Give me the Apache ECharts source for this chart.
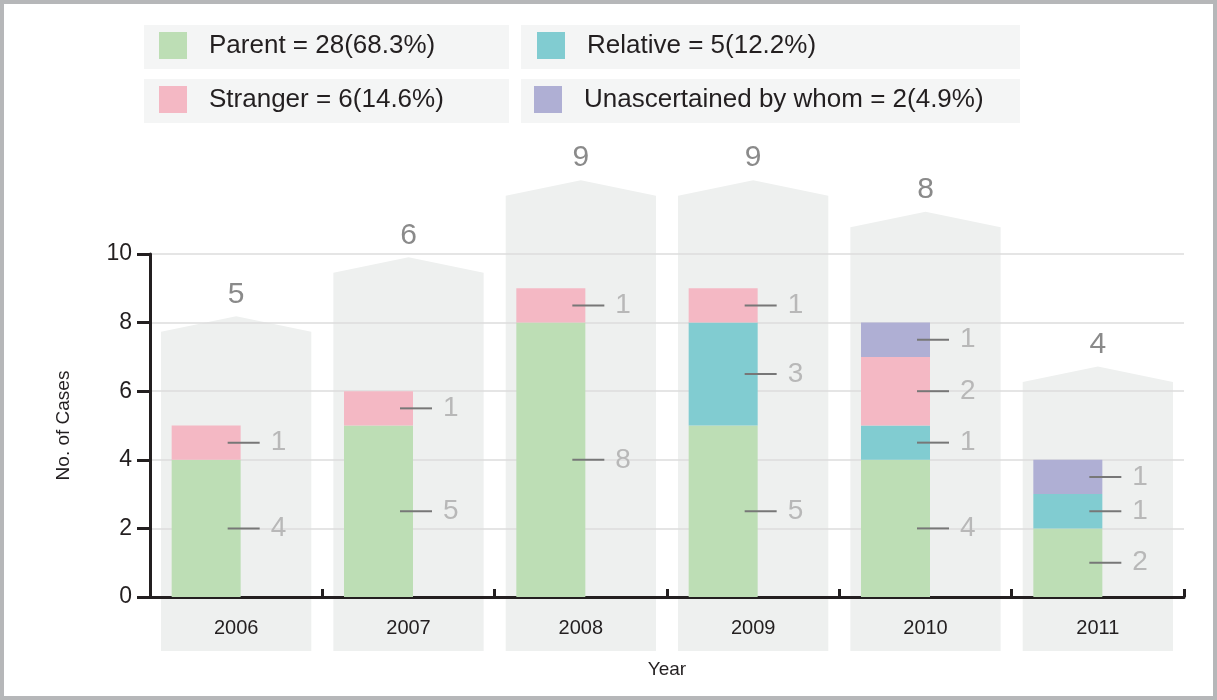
<!DOCTYPE html>
<html>
<head>
<meta charset="utf-8">
<title>No. of Cases by Year</title>
<script src="https://cdn.jsdelivr.net/npm/echarts@6/dist/echarts.min.js"></script>
<style>
  html, body { margin: 0; padding: 0; background: #fff; }
  #chart { width: 1217px; height: 700px; }
</style>
</head>
<body>
<div id="chart"></div>
<script>
  var years = ['2006', '2007', '2008', '2009', '2010', '2011'];
  var parent = [4, 5, 8, 5, 4, 2];
  var relative = [0, 0, 0, 3, 1, 1];
  var stranger = [1, 1, 1, 1, 2, 0];
  var unknown = [0, 0, 0, 0, 1, 1];
  // shoulder level of the grey "house" behind each year (in case units)
  var capLevel = [7.73, 9.45, 11.7, 11.7, 10.78, 6.27];

  var totals = years.map(function (y, i) {
    return parent[i] + relative[i] + stranger[i] + unknown[i];
  });
  var grand = totals.reduce(function (a, b) { return a + b; }, 0);

  var FONT = '"Liberation Sans", Arial, Helvetica, sans-serif';
  var INK = '#231f20';

  var groups = [
    { name: 'Parent', data: parent, color: '#bddeb5' },
    { name: 'Relative', data: relative, color: '#81ccd1' },
    { name: 'Stranger', data: stranger, color: '#f4b8c4' },
    { name: 'Unascertained by whom', data: unknown, color: '#afafd4' }
  ];

  function sumOf(name) {
    var g = groups.filter(function (x) { return x.name === name; })[0];
    return g.data.reduce(function (a, b) { return a + b; }, 0);
  }

  function legendText(name) {
    var s = sumOf(name);
    return name + ' = ' + s + '(' + (s / grand * 100).toFixed(1) + '%)';
  }

  function makeLegend(name, left, top) {
    return {
      data: [name],
      left: left,
      top: top,
      padding: 0,
      icon: 'rect',
      itemWidth: 28,
      itemHeight: 27,
      selectedMode: false,
      formatter: legendText,
      textStyle: { fontSize: 26, color: INK, fontFamily: FONT, lineHeight: 27, padding: [0, 0, 0, 17] }
    };
  }

  function renderHouse(params, api) {
    var i = api.value(0);
    var top = api.coord([i, api.value(1)]);
    var base = api.coord([i, 0]);
    var w = api.size([1, 0])[0] * 0.872;
    var l = top[0] - w / 2;
    var r = top[0] + w / 2;
    var bottom = base[1] + 54;
    var peak = top[1] - 15.5;
    return {
      type: 'group',
      children: [
        {
          type: 'polygon',
          shape: { points: [[l, bottom], [l, top[1]], [top[0], peak], [r, top[1]], [r, bottom]] },
          style: { fill: '#eef0ef' }
        },
        {
          type: 'text',
          x: top[0],
          y: peak - 22,
          style: {
            text: String(api.value(2)),
            fill: '#8a8a8a',
            font: '30px ' + FONT,
            align: 'center',
            verticalAlign: 'middle'
          }
        }
      ]
    };
  }

  var barSeries = groups.map(function (g) {
    return {
      name: g.name,
      type: 'bar',
      stack: 'cases',
      barWidth: 69,
      barGap: '0%',
      data: g.data,
      itemStyle: { color: g.color },
      label: {
        show: true,
        position: [56, '50%'],
        align: 'left',
        verticalAlign: 'middle',
        formatter: function (p) {
          return p.value ? '{l| }{v|' + p.value + '}' : '';
        },
        rich: {
          l: { width: 32, height: 2, backgroundColor: '#777777' },
          v: { fontSize: 28, color: '#b8b8b8', fontFamily: FONT, padding: [0, 0, 0, 11] }
        }
      }
    };
  });

  // empty neighbour stack so the coloured bars sit left of the year centre
  barSeries.push({
    name: 'pad',
    type: 'bar',
    stack: 'pad',
    barWidth: 60,
    silent: true,
    data: years.map(function () { return 0; }),
    itemStyle: { color: 'rgba(0,0,0,0)' }
  });

  var chart = echarts.init(document.getElementById('chart'));
  chart.setOption({
    animation: false,
    textStyle: { fontFamily: FONT },
    graphic: [
      { type: 'rect', z: -10, shape: { x: 144, y: 25, width: 365, height: 44 }, style: { fill: '#f4f5f5' } },
      { type: 'rect', z: -10, shape: { x: 521, y: 25, width: 499, height: 44 }, style: { fill: '#f4f5f5' } },
      { type: 'rect', z: -10, shape: { x: 144, y: 79, width: 365, height: 44 }, style: { fill: '#f4f5f5' } },
      { type: 'rect', z: -10, shape: { x: 521, y: 79, width: 499, height: 44 }, style: { fill: '#f4f5f5' } },
      { type: 'rect', z: 100, shape: { x: 2, y: 2, width: 1213, height: 696 }, style: { fill: null, stroke: '#b6b7b9', lineWidth: 4 } }
    ],
    legend: [
      makeLegend('Parent', 159, 32),
      makeLegend('Relative', 537, 32),
      makeLegend('Stranger', 159, 86),
      makeLegend('Unascertained by whom', 534, 86)
    ],
    grid: { left: 150, right: 33, top: 254, bottom: 103 },
    xAxis: {
      type: 'category',
      data: years,
      name: 'Year',
      nameLocation: 'middle',
      nameGap: 63,
      nameTextStyle: { fontSize: 19, color: INK },
      axisLine: { show: true, lineStyle: { color: INK, width: 3 } },
      axisTick: { show: true, inside: true, length: 8, lineStyle: { color: INK, width: 3 } },
      axisLabel: { fontSize: 20, color: INK, margin: 21 },
      splitLine: { show: false }
    },
    yAxis: {
      type: 'value',
      min: 0,
      max: 10,
      interval: 2,
      name: 'No. of Cases',
      nameLocation: 'middle',
      nameGap: 77,
      nameTextStyle: { fontSize: 19, color: INK },
      axisLine: { show: true, lineStyle: { color: INK, width: 3 } },
      axisTick: { show: true, length: 13, lineStyle: { color: INK, width: 3 } },
      axisLabel: { fontSize: 23, color: INK, margin: 18 },
      splitLine: { show: true, lineStyle: { color: '#dcdcdc', width: 1.5 } }
    },
    series: [{
      type: 'custom',
      name: 'houses',
      z: -1,
      silent: true,
      clip: false,
      renderItem: renderHouse,
      encode: { x: 0, y: 1 },
      data: years.map(function (y, i) { return [i, capLevel[i], totals[i]]; })
    }].concat(barSeries)
  });
</script>
</body>
</html>
